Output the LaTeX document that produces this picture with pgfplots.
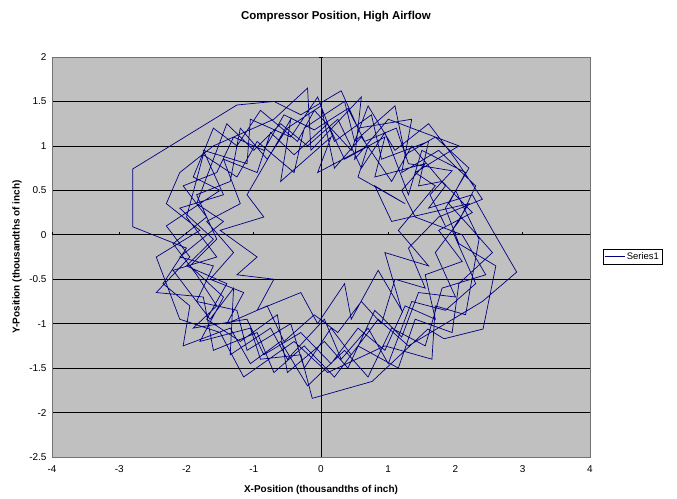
\documentclass[border=0pt]{standalone}
\usepackage{pgfplots}
\pgfplotsset{compat=1.18}
\usepackage{fontspec}
\setmainfont{Liberation Sans}
\definecolor{plotgray}{HTML}{C0C0C0}
\definecolor{navyline}{HTML}{000080}
\pgfplotstableread{
x y
1.85 0.10
1.62 0.45
1.95 0.72
1.30 0.80
1.12 1.20
0.65 1.05
0.40 1.42
-0.10 1.18
-0.55 1.35
-0.85 0.95
-1.30 1.10
-1.55 0.70
-2.05 0.55
-1.70 0.20
-2.20 -0.10
-1.85 -0.45
-1.55 -0.80
-1.90 -1.05
-1.10 -0.95
-0.85 -1.35
-0.30 -1.10
0.15 -1.45
0.55 -1.05
0.95 -1.30
1.25 -0.80
1.70 -0.95
1.55 -0.45
2.10 -0.30
1.75 0.05
2.25 0.25
1.80 0.60
1.45 0.55
1.60 1.05
0.90 0.85
0.75 1.35
0.20 1.05
-0.05 1.55
-0.45 1.10
-1.05 1.30
-1.10 0.80
-1.75 0.95
-1.45 0.45
-2.10 0.30
-1.60 -0.05
-2.00 -0.35
-1.40 -0.55
-1.70 -0.95
-1.20 -1.20
-0.65 -0.90
-0.50 -1.55
0.05 -1.20
0.40 -1.50
0.80 -0.85
1.20 -1.15
1.45 -0.65
2.00 -0.70
1.70 -0.20
2.05 0.15
2.30 0.55
1.75 0.95
1.20 0.70
1.35 1.30
0.55 1.20
0.30 1.62
-0.30 1.35
-0.70 1.50
-1.25 1.46
-2.80 0.74
-2.80 0.09
-2.00 -0.15
-2.35 -0.55
-1.95 -0.80
-2.05 -1.25
-1.35 -1.05
-1.05 -1.45
-0.60 -1.20
-0.20 -1.70
0.35 -1.30
0.70 -1.60
1.05 -1.05
1.55 -1.25
1.80 -0.60
2.45 -0.45
2.10 0.00
1.40 0.20
1.20 0.50
1.55 0.80
0.80 0.65
0.95 1.10
0.35 0.85
0.10 1.25
-0.40 0.90
-0.75 1.15
-0.95 0.70
-1.45 0.85
-1.20 0.35
-1.70 0.15
-1.30 -0.20
-1.65 -0.50
-1.15 -0.65
-1.40 -1.00
-0.80 -0.80
-0.55 -1.20
-0.10 -0.90
0.25 -1.10
0.60 -0.75
0.90 -1.00
1.10 -0.50
1.55 -0.60
1.30 -0.15
1.75 0.20
2.40 0.40
2.00 0.85
1.60 1.25
1.10 0.95
0.70 1.45
0.45 0.95
-0.10 1.40
-0.35 1.05
-0.90 1.40
-1.25 1.00
-1.60 1.20
-1.90 0.65
-1.50 0.50
-2.30 0.10
-1.95 -0.25
-2.45 -0.65
-1.75 -0.70
-1.60 -1.30
-0.95 -1.10
-0.70 -1.55
-0.25 -1.25
0.20 -1.60
0.55 -1.25
1.15 -1.50
1.40 -0.95
1.95 -1.10
2.05 -0.55
2.55 -0.20
2.20 0.10
1.90 0.35
2.15 0.70
1.50 0.95
1.30 0.45
0.95 1.15
0.60 0.75
0.25 1.30
-0.20 1.00
-0.60 1.25
-1.00 0.95
-1.40 1.25
-1.65 0.75
-1.85 0.35
-1.45 0.15
-2.10 -0.25
-1.60 -0.35
-1.85 -0.75
-1.25 -0.85
-1.10 -1.30
-0.45 -1.00
-0.25 -1.50
0.15 -1.05
0.45 -1.35
0.85 -0.95
1.30 -1.25
2.40 -0.75
2.91 -0.42
2.55 0.05
2.25 0.45
1.60 0.30
1.85 0.55
1.35 1.00
1.05 0.60
0.60 1.10
0.20 0.75
0.00 1.45
-0.50 1.20
-0.80 0.85
-1.20 1.20
-1.35 0.60
-1.85 0.45
-1.55 -0.05
-1.95 -0.35
-1.45 -0.70
-1.80 -1.20
-1.05 -1.05
-0.90 -1.40
-0.30 -1.35
-0.13 -1.84
0.76 -1.65
1.59 -1.06
1.83 -1.17
2.41 -1.06
2.60 -0.35
2.05 -0.10
1.85 0.30
2.20 0.75
1.70 1.10
1.25 0.90
1.10 1.45
0.50 1.05
0.35 1.50
-0.25 1.20
-0.40 0.70
-0.95 1.05
-1.25 0.65
-1.75 0.90
-2.00 0.20
-1.55 -0.25
-2.20 -0.40
-1.65 -0.95
-1.30 -0.60
-1.35 -1.35
-0.75 -1.05
-0.50 -1.40
0.05 -0.95
0.30 -1.40
0.70 -1.05
1.00 -1.45
1.35 -0.75
1.85 -0.85
2.30 -0.55
1.95 0.05
2.20 0.35
1.05 0.15
0.80 0.55
1.25 0.35
0.55 0.65
0.70 1.00
-0.05 0.70
0.15 1.10
-0.60 0.60
-0.45 1.30
-1.10 0.45
-0.85 0.20
-1.50 0.05
-0.95 -0.25
-1.25 -0.45
-0.70 -0.50
-0.95 -0.85
-0.30 -0.65
-0.05 -1.00
0.35 -0.55
0.45 -0.95
0.85 -0.40
1.20 -0.85
0.95 -0.20
1.60 -0.35
1.15 0.05
1.70 0.55
1.40 0.70
2.05 1.00
1.00 1.30
0.50 0.85
0.60 1.55
-0.15 0.95
-0.20 1.65
-0.70 1.30
-1.60 1.00
-2.10 0.70
-2.30 0.35
-1.80 0.05
-2.45 -0.25
-2.10 -0.95
-1.50 -1.10
-1.15 -1.60
-0.40 -1.20
0.10 -1.55
0.95 -1.25
1.65 -1.40
1.70 -0.80
2.15 -0.90
2.35 -0.05
2.00 0.50
}\orbit
\begin{document}
\begin{tikzpicture}
\useasboundingbox (0bp,0bp) rectangle (677bp,499bp);
\begin{axis}[
  at={(52bp,42bp)}, anchor=south west,
  scale only axis, width=538bp, height=400bp,
  xmin=-4, xmax=4, ymin=-2.5, ymax=2,
  xtick={-4,-3,-2,-1,0,1,2,3,4},
  ytick={-2.5,-2,-1.5,-1,-0.5,0,0.5,1,1.5,2},
  axis background/.style={fill=plotgray},
  axis line style={draw=black!55, line width=0.8bp},
  ymajorgrids, major grid style={black, line width=0.6bp},
  tick style={draw=none},
  /pgf/number format/assume math mode=true,
  ticklabel style={font=\fontsize{10}{12}\selectfont},
  xticklabel style={yshift=-5bp},
  yticklabel style={xshift=-2bp},
  legend style={at={(1.024,0.501)}, anchor=west, draw=black, fill=white,
     font=\fontsize{9.5}{11}\selectfont, inner sep=1bp, line width=0.5bp},
  legend image code/.code={\draw[navyline, line width=0.75bp] (0bp,0bp) -- (20bp,0bp);},
]
\draw[black, line width=0.8bp] (axis cs:0,-2.5) -- (axis cs:0,2);
\draw[black, line width=0.8bp] (axis cs:-4,0) -- (axis cs:4,0);
\pgfplotsinvokeforeach{-4,-3,-2,-1,1,2,3,4}{\draw[black, line width=0.7bp] (axis cs:#1,0) -- ++(0bp,3bp);}
\pgfplotsinvokeforeach{-2.5,-2,-1.5,-1,-0.5,0.5,1,1.5,2}{\draw[black, line width=0.7bp] (axis cs:0,#1) ++(-2bp,0bp) -- ++(4bp,0bp);}
\addplot[navyline, line width=0.7bp, no markers] table {\orbit};
\addlegendentry{Series1}
\end{axis}
\node[font=\fontsize{11.5}{13}\selectfont\bfseries] at (336bp,482bp) {Compressor Position, High Airflow};
\node[font=\fontsize{10}{12}\selectfont\bfseries] at (321bp,9bp) {X-Position (thousandths of inch)};
\node[font=\fontsize{10}{12}\selectfont\bfseries, rotate=90] at (17bp,242bp) {Y-Position (thousandths of inch)};
\end{tikzpicture}
\end{document}
